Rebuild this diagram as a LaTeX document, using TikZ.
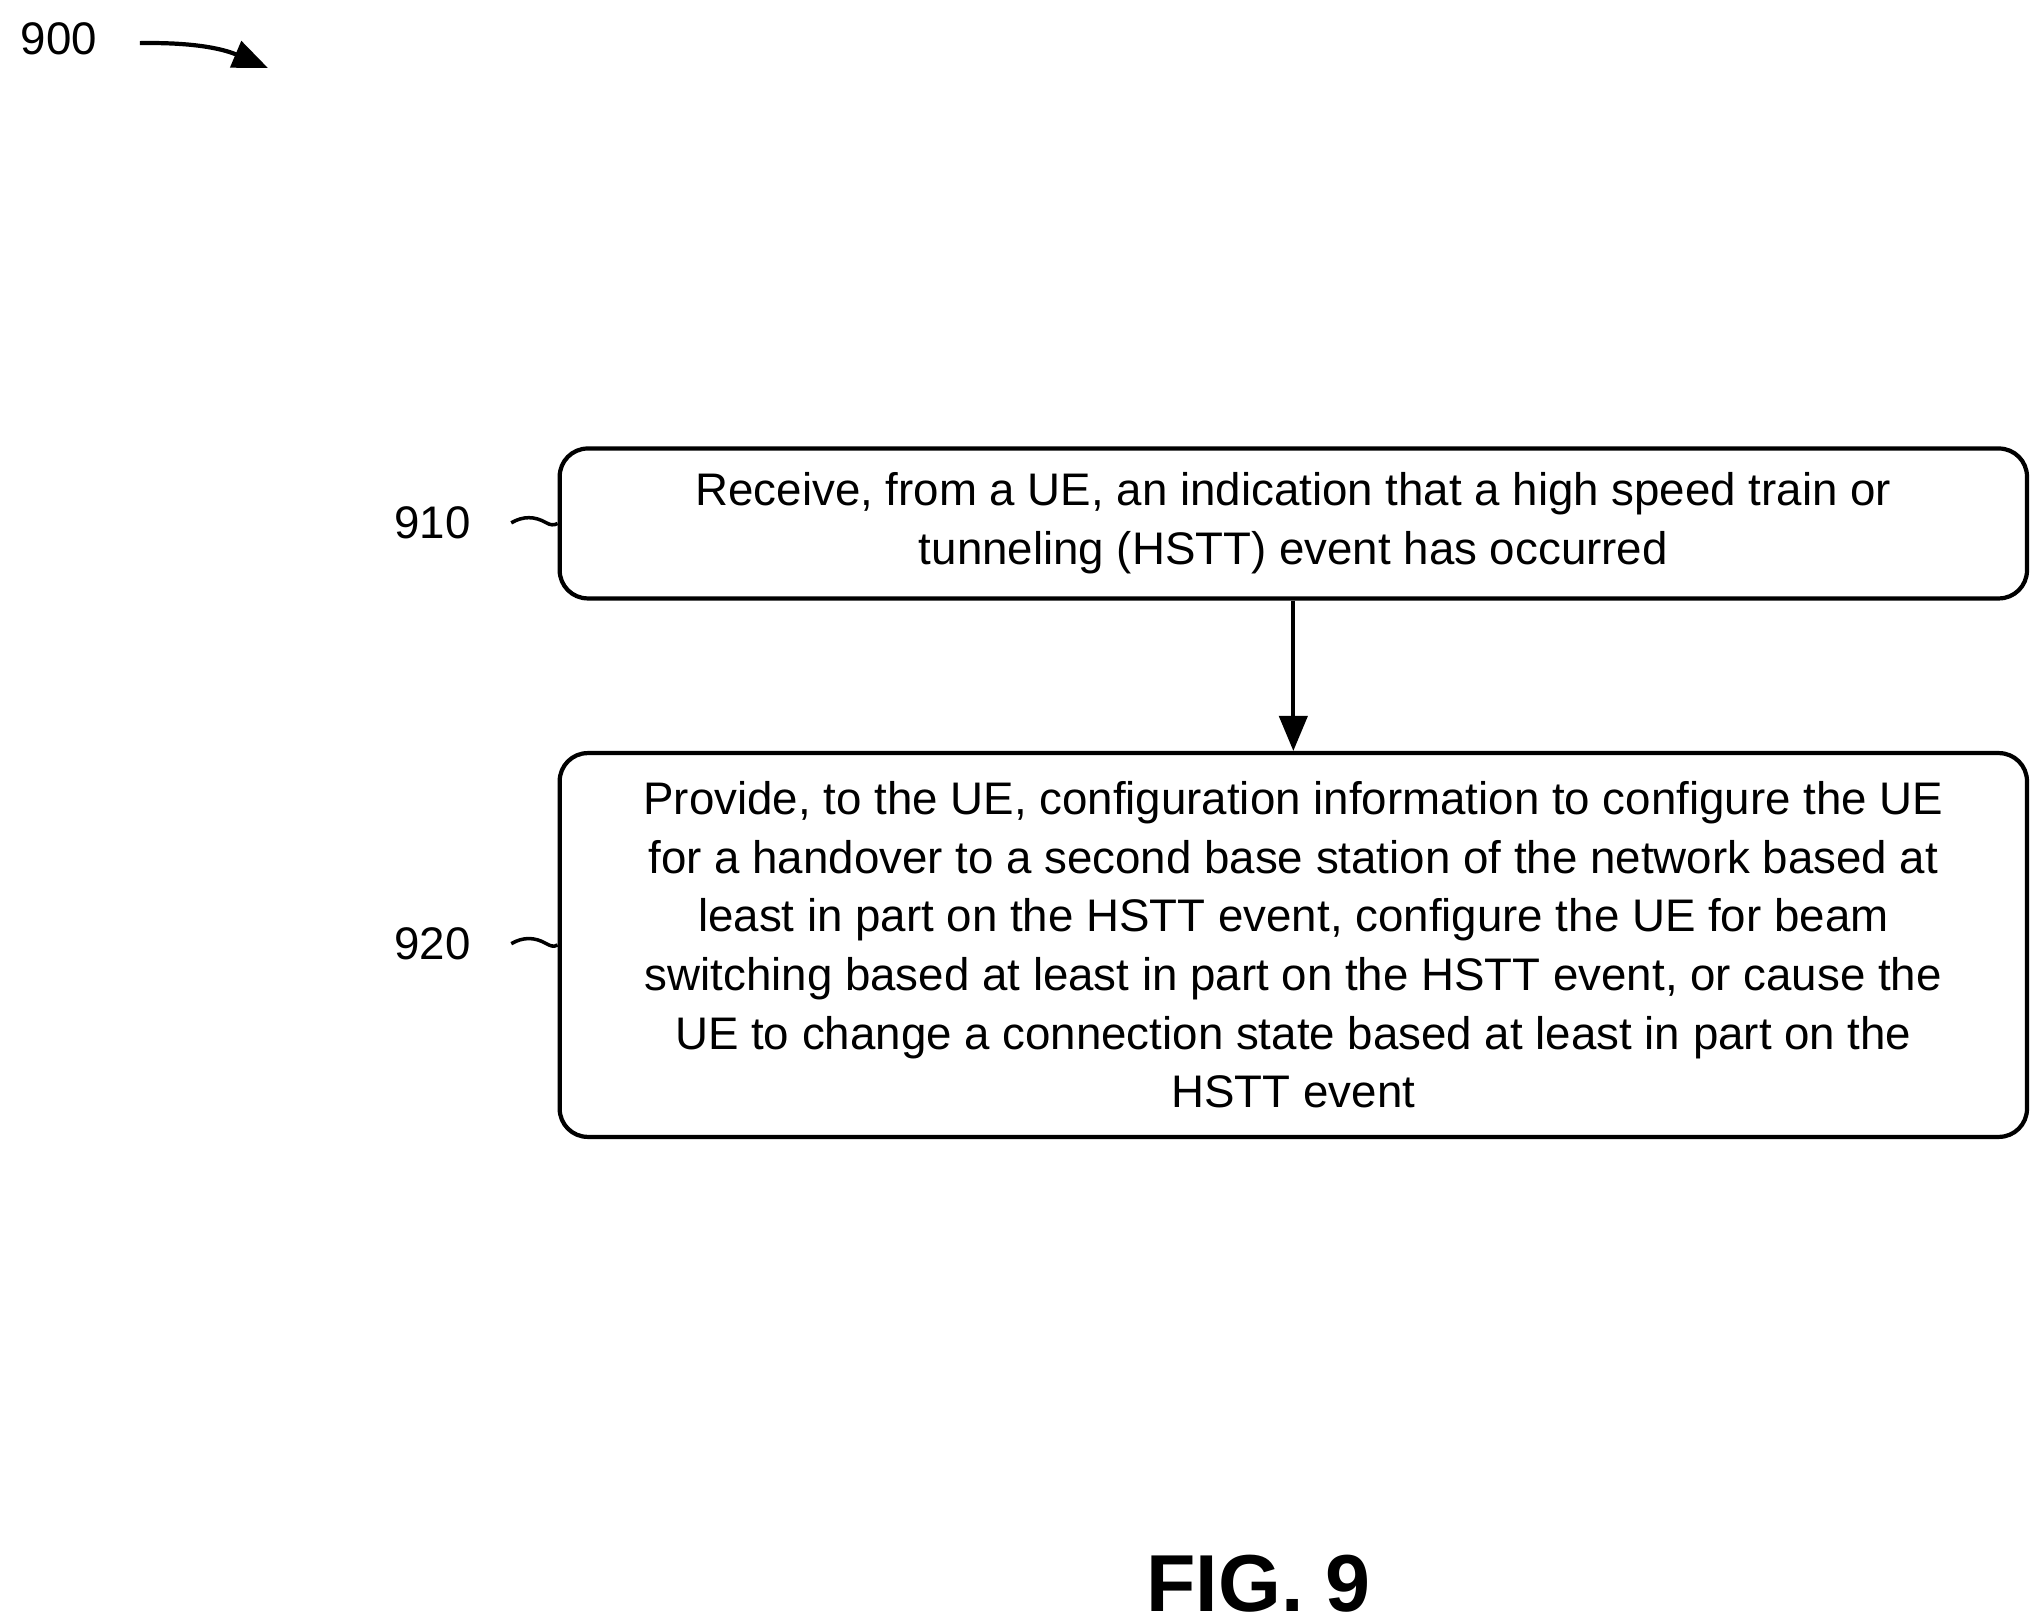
\documentclass[tikz,border=0pt]{standalone}
\usepackage{fontspec}
\setmainfont{Liberation Sans}
\usetikzlibrary{positioning,arrows.meta}
\tikzstyle{flowbox} = [draw, line width=1.2pt, rounded corners=8pt, minimum width=14.68cm, align=center, font=\fontsize{13}{16.7}\selectfont]
\tikzstyle{ref} = [font=\fontsize{13}{16}\selectfont]
\tikzstyle{arrow} = [line width=1.2pt, -{Triangle[length=10pt,width=8pt]}]
\begin{document}
\begin{tikzpicture}[x=0.01307cm, y=-0.01307cm]
    \useasboundingbox (0,0) rectangle (1560,1240);
    \node[flowbox, minimum height=1.5cm] (s910) at (989.5,400.5) {Receive, from a UE, an indication that a high speed train or\\tunneling (HSTT) event has occurred};
    \node[flowbox, minimum height=3.84cm] (s920) at (989.5,723) {Provide, to the UE, configuration information to configure the UE\\for a handover to a second base station of the network based at\\least in part on the HSTT event, configure the UE for beam\\switching based at least in part on the HSTT event, or cause the\\UE to change a connection state based at least in part on the\\HSTT event};
    \draw[arrow] (s910) -- (s920); %% 910 to 920

    \node[ref] (l910) at (331,400) {910};
    \draw[line width=1pt] (l910.east) ++(8pt,0) to[out=30,in=150] ++(10pt,0) to[out=-30,in=-150] (s910.west); %% squiggle
    \node[ref] (l920) at (331,722) {920};
    \draw[line width=1pt] (l920.east) ++(8pt,0) to[out=30,in=150] ++(10pt,0) to[out=-30,in=-150] (s920.west); %% squiggle

    \node[ref] (l900) at (45,30) {900};
    \coordinate (a900) at (205,52);
    \draw[arrow] (107,33) to[bend left=12] (a900);

    \node[font=\bfseries\fontsize{23}{26}\selectfont] (fig) at (963,1212) {FIG. 9};
\end{tikzpicture}
\end{document}
